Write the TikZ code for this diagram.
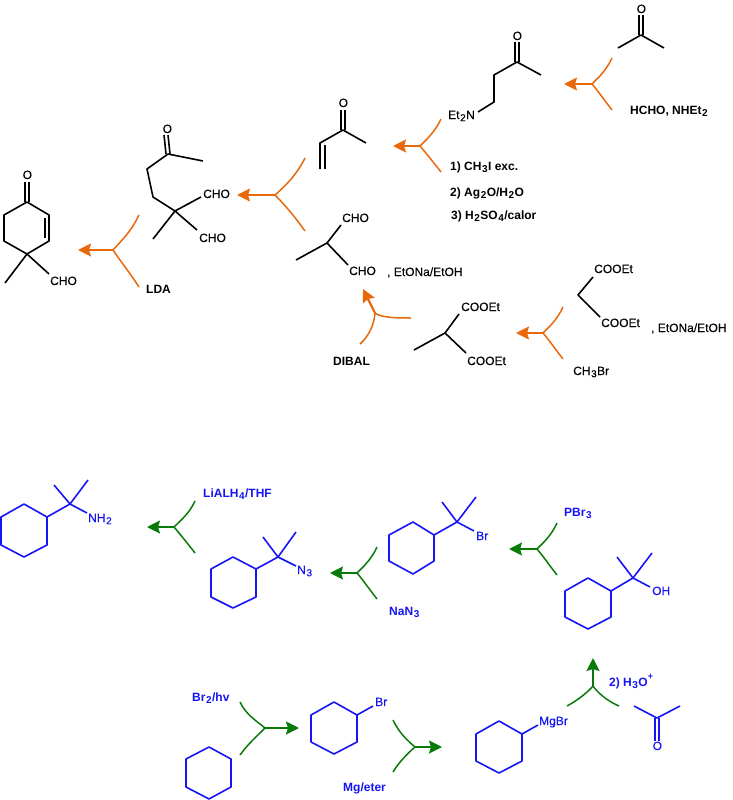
\documentclass[tikz,border=0pt]{standalone}
\usepackage{fontspec}
\setmainfont{Liberation Sans}
\newfontfamily\labelfont[FakeBold=0.25]{Liberation Sans}
\usetikzlibrary{arrows.meta}
\definecolor{synthorange}{RGB}{232,104,12}
\definecolor{synthgreen}{RGB}{8,122,8}
\definecolor{synthblue}{RGB}{20,20,245}
\newcommand{\lowidx}[1]{\kern0.6pt\raisebox{-0.35ex}{\fontsize{10}{10}\selectfont #1}\kern0.4pt}
\tikzset{
  bond/.style={line width=1.6pt, line join=round},
  lab/.style={inner sep=0pt, anchor=base west, font=\fontsize{12}{14}\labelfont},
  reagent/.style={lab, font=\fontsize{12}{14}\selectfont\bfseries},
  arm/.style={line width=1.5pt},
  shaft/.style={line width=2.2pt, -{Stealth[length=13pt,width=13pt,inset=2pt]}}
}
\begin{document}
\begin{tikzpicture}[x=1pt, y=-1pt]
        \useasboundingbox (0,0) rectangle (733,800);

        \begin{scope}[every path/.append style={bond}]
        \draw (27,202) -- (49,215) -- (49,241) -- (27,254) -- (4,241) -- (4,215) -- cycle;  %cyclohexenone
        \draw (45,218) -- (45,238);
        \draw (25,202) -- (25,182);  \draw (29,202) -- (29,182);
        \draw (27,254) -- (5,283);   \draw (27,254) -- (49,274);
        \draw (203,161) -- (168,154) -- (147,169) -- (153,197) -- (175,211) -- (153,239);   %dialdehyde
        \draw (175,211) -- (201,197); \draw (175,211) -- (197,230);
        \draw (166,154) -- (164,135); \draw (170,154) -- (168,135);
        \draw (320,169) -- (320,143) -- (343,130) -- (366,143);                              %enone
        \draw (325,145) -- (325,169);
        \draw (341,130) -- (341,110); \draw (345,130) -- (345,110);
        \draw (478,112) -- (494,102) -- (494,75) -- (517,62) -- (541,75);                    %mannich
        \draw (515,62) -- (515,42);   \draw (519,62) -- (519,42);
        \draw (618,48) -- (641,35) -- (664,48);                                              %acetone
        \draw (639,35) -- (639,15);   \draw (643,35) -- (643,15);
        \draw (296,260) -- (327,243) -- (341,225); \draw (327,243) -- (348,265);             %methylmalonaldehyde
        \draw (414,350) -- (445,333) -- (459,314); \draw (445,333) -- (466,353);             %methylmalonate
        \draw (593,277) -- (578,295) -- (600,317);                                           %malonate
        \end{scope}

        \node [reagent] (lda)    at (146,293) {LDA};
        \node [lab] (oa)         at (22.5,179) {O};
        \node [lab] (choa)       at (50,285) {CHO};
        \node [lab] (ob)         at (162.5,133) {O};
        \node [lab] (chob)       at (203,198) {CHO};
        \node [lab] (choc)       at (199,242) {CHO};
        \node [lab] (oc)         at (338.5,107) {O};
        \node [lab] (od)         at (512.5,40) {O};
        \node [lab] (oe)         at (636.5,13) {O};
        \node [lab] (amine)      at (448,119) {Et\lowidx{2}N};
        \node [reagent] (mannich) at (630,114) {HCHO, NHEt\lowidx{2}};
        \node [reagent] (stepa)  at (450,170) {1) CH\lowidx{3}I exc.};
        \node [reagent] (stepb)  at (450,196) {2) Ag\lowidx{2}O/H\lowidx{2}O};
        \node [reagent] (stepc)  at (451,219) {3) H\lowidx{2}SO\lowidx{4}/calor};
        \node [lab] (chod)       at (342,222) {CHO};
        \node [lab] (choe)       at (349,275) {CHO};
        \node [lab] (basea)      at (387,276) {, EtONa/EtOH};
        \node [reagent] (dibal)  at (333,365) {DIBAL};
        \node [lab] (coeta)      at (461,311) {COOEt};
        \node [lab] (coetb)      at (467,365) {COOEt};
        \node [lab] (coetc)      at (594,273) {COOEt};
        \node [lab] (coetd)      at (601,327) {COOEt};
        \node [lab] (baseb)      at (651,332) {, EtONa/EtOH};
        \node [lab] (mebr)       at (573,375) {CH\lowidx{3}Br};

        \draw [arm, synthorange] (139,215) .. controls (131,232) and (121,241) .. (113,250) .. controls (121,262) and (130,273) .. (139,287);  %LDA
        \draw [shaft, synthorange] (113,250) -- (78,250);
        \draw [arm, synthorange] (305,158) .. controls (296,176) and (285,186) .. (275,195) .. controls (285,205) and (295,217) .. (305,231);  %michael
        \draw [shaft, synthorange] (275,195) -- (237,195);
        \draw [arm, synthorange] (441,119) .. controls (435,132) and (426,140) .. (420,146) .. controls (426,153) and (434,163) .. (441,172);  %hofmann
        \draw [shaft, synthorange] (420,146) -- (393,146);
        \draw [arm, synthorange] (612,58) .. controls (606,71) and (598,78) .. (592,84) .. controls (598,91) and (605,101) .. (612,110);        %mannich
        \draw [shaft, synthorange] (592,84) -- (564,84);
        \draw [arm, synthorange] (360,344) .. controls (369,336) and (374,325) .. (375,313) .. controls (380,317) and (392,318) .. (411,318);  %DIBAL
        \draw [shaft, synthorange] (375,313) -- (363,289);
        \draw [arm, synthorange] (563,307) .. controls (557,320) and (549,327) .. (543,333) .. controls (549,340) and (556,350) .. (563,359);  %alkylation
        \draw [shaft, synthorange] (543,333) -- (516,333);

        \begin{scope}[every path/.append style={bond, synthblue}]
        \draw (24,504) -- (47,517) -- (47,545) -- (24,557) -- (1,545) -- (1,517) -- cycle;   %amine
        \draw (47,517) -- (70,504) -- (87,513); \draw (54,485) -- (70,504) -- (88,480);
        \draw (233,557) -- (256,569) -- (256,597) -- (233,608) -- (211,597) -- (211,569) -- cycle;  %azide
        \draw (256,569) -- (278,557) -- (296,566); \draw (263,537) -- (278,557) -- (296,532);
        \draw (413,522) -- (434,535) -- (434,561) -- (413,574) -- (389,561) -- (389,535) -- cycle;  %bromide
        \draw (434,535) -- (457,522) -- (474,531); \draw (442,502) -- (457,522) -- (476,497);
        \draw (588,578) -- (611,591) -- (611,617) -- (588,629) -- (565,617) -- (565,591) -- cycle;  %alcohol
        \draw (611,591) -- (633,578) -- (650,587); \draw (617,557) -- (633,578) -- (652,553);
        \draw (209,747) -- (231,759) -- (231,787) -- (209,799) -- (186,787) -- (186,759) -- cycle;  %cyclohexane
        \draw (334,702) -- (357,715) -- (357,742) -- (334,754) -- (311,742) -- (311,715) -- cycle;  %bromocyclohexane
        \draw (357,715) -- (373,706);
        \draw (499,721) -- (522,734) -- (522,761) -- (499,773) -- (476,761) -- (476,734) -- cycle;  %grignard
        \draw (522,734) -- (538,725);
        \draw (634,706) -- (657,718) -- (680,706);                                           %acetone
        \draw (655,718) -- (655,741); \draw (659,718) -- (659,741);
        \end{scope}

        \begin{scope}[every node/.append style={text=synthblue}]
        \node [lab] (nhtwo)      at (88,522) {NH\lowidx{2}};
        \node [reagent] (lialh)  at (203,497) {LiALH\lowidx{4}/THF};
        \node [lab] (nthree)     at (297,574) {N\lowidx{3}};
        \node [reagent] (nanthree) at (389,615) {NaN\lowidx{3}};
        \node [lab] (bra)        at (476,540) {Br};
        \node [reagent] (pbr)    at (564,516) {PBr\lowidx{3}};
        \node [lab] (oh)         at (652,595) {OH};
        \node [reagent] (brtwo)  at (192,701) {Br\lowidx{2}/hv};
        \node [lab] (brb)        at (375,706) {Br};
        \node [reagent] (mg)     at (343,791) {Mg/eter};
        \node [lab] (mgbr)       at (539,725) {MgBr};
        \node [reagent] (hthree) at (609,686) {2) H\lowidx{3}O\raisebox{1.1ex}{\fontsize{9}{9}\selectfont +}};
        \node [lab] (of)         at (652.5,750) {O};
        \end{scope}

        \draw [arm, synthgreen] (195,501) .. controls (189,514) and (180,521) .. (174,527) .. controls (180,534) and (188,544) .. (195,553);  %LiAlH4
        \draw [shaft, synthgreen] (174,527) -- (147,527);
        \draw [arm, synthgreen] (377,547) .. controls (371,560) and (363,567) .. (357,573) .. controls (363,580) and (370,590) .. (377,599);  %azide
        \draw [shaft, synthgreen] (357,573) -- (330,573);
        \draw [arm, synthgreen] (557,523) .. controls (551,536) and (543,543) .. (537,549) .. controls (543,556) and (550,566) .. (557,575);  %PBr3
        \draw [shaft, synthgreen] (537,549) -- (509,549);
        \draw [arm, synthgreen] (240,702) .. controls (246,715) and (258,722) .. (265,728) .. controls (258,735) and (247,745) .. (240,755);  %Br2
        \draw [shaft, synthgreen] (265,728) -- (299,728);
        \draw [arm, synthgreen] (393,720) .. controls (399,733) and (408,741) .. (415,747) .. controls (408,753) and (399,762) .. (393,772);  %Mg
        \draw [shaft, synthgreen] (415,747) -- (442,747);
        \draw [arm, synthgreen] (567,706) .. controls (578,700) and (588,692) .. (593,686) .. controls (597,692) and (607,701) .. (619,706);  %acetone
        \draw [shaft, synthgreen] (593,686) -- (593,658);
      \end{tikzpicture}
\end{document}
